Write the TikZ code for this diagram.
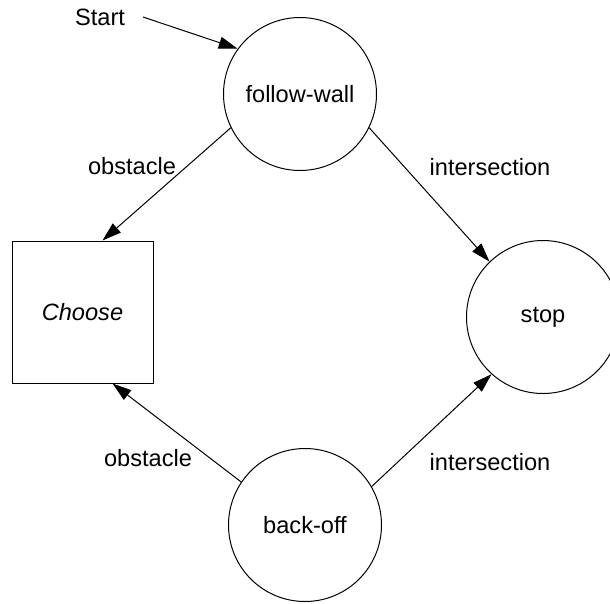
\documentclass[tikz,border=0pt]{standalone}
\usepackage{fontspec}
\setmainfont{Liberation Sans}
\usetikzlibrary{arrows.meta}
\begin{document}
\begin{tikzpicture}[x=1pt,y=-1pt,
  every node/.style={font=\fontsize{23.6}{28}\selectfont, inner sep=0pt},
  state/.style={draw, circle, line width=1pt, minimum size=153pt},
  choosebox/.style={draw, rectangle, line width=1pt, minimum width=141pt, minimum height=142pt},
  trans/.style={line width=1pt, -{Triangle[length=19pt,width=12pt]}}]
\useasboundingbox (0,0) rectangle (610,603);
\node[state] (fw) at (300,94) {follow-wall};
\node[state] (stop) at (543,317) {stop};
\node[state] (bo) at (305,525) {back-off};
\node[choosebox] (choose) at (82.5,312) {\itshape Choose};
\node (start) at (100,17) {Start};
\coordinate (startend) at (143,17);
\node (lob1) at (132,166) {obstacle};
\node (lin1) at (490,167) {intersection};
\node (lob2) at (148,458) {obstacle};
\node (lin2) at (490,462) {intersection};
\draw[trans] (startend) -- (fw.144);
\draw[trans] (fw.206) -- ([xshift=20pt]choose.north);
\draw[trans] (fw.334) -- (stop.134);
\draw[trans] (bo.146) -- ([xshift=30pt]choose.south);
\draw[trans] (bo.30) -- (stop.228);
\end{tikzpicture}
\end{document}
